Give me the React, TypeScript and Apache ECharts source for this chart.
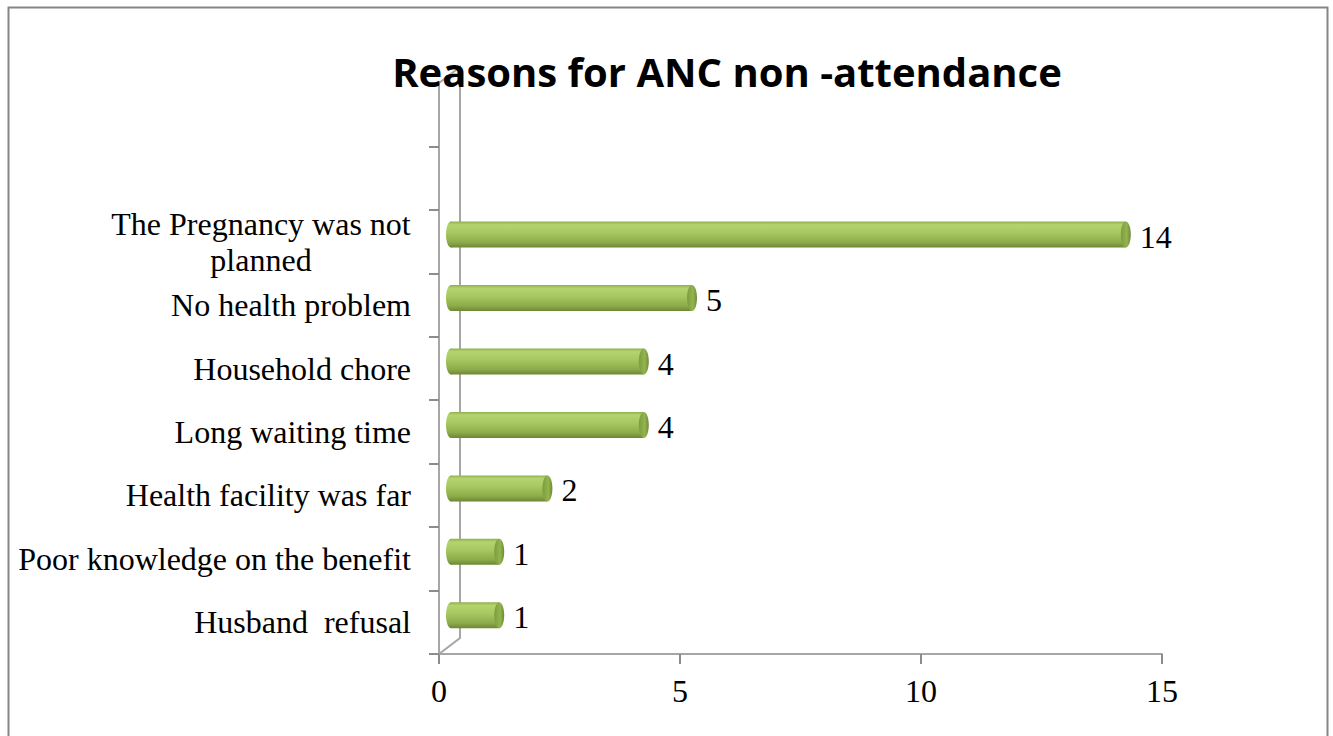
import React, { useEffect, useRef } from "react";
import * as echarts from "echarts";

const categories = [
  "Husband  refusal",
  "Poor knowledge on the benefit",
  "Health facility was far",
  "Long waiting time",
  "Household chore",
  "No health problem",
  "The Pregnancy was not planned",
  " ",
  "  ",
];
const values = [1, 1, 2, 4, 4, 5, 14];
const xTicks = { min: 0, max: 15, interval: 5 };
const titleText = "Reasons for ANC non -attendance";

const SERIF = '"Liberation Serif", "Times New Roman", serif';

export default function App() {
  const ref = useRef<HTMLDivElement>(null);
  useEffect(() => {
    if (!ref.current) return;
    const chart = echarts.init(ref.current, null, { renderer: "svg" });
    const bodyGrad = () =>
      new echarts.graphic.LinearGradient(0, 0, 0, 1, [
        { offset: 0, color: "#8FAF4C" },
        { offset: 0.12, color: "#B3D46E" },
        { offset: 0.45, color: "#A5C660" },
        { offset: 0.8, color: "#8DAB4A" },
        { offset: 1, color: "#6C8734" },
      ]);
    const capGrad = () =>
      new echarts.graphic.LinearGradient(0, 0, 1, 0, [
        { offset: 0, color: "#7D9C3E" },
        { offset: 0.6, color: "#93B44F" },
        { offset: 1, color: "#6E8A36" },
      ]);
    chart.setOption({
      animation: false,
      backgroundColor: "#ffffff",
      grid: { left: 439, right: 171, top: 83, bottom: 82, containLabel: false },
      xAxis: {
        type: "value",
        min: xTicks.min,
        max: xTicks.max,
        interval: xTicks.interval,
        splitLine: { show: false },
        axisLine: { show: true, lineStyle: { color: "#A6A6A6", width: 2 } },
        axisTick: { show: true, length: 10, lineStyle: { color: "#8C8C8C", width: 2 } },
        axisLabel: { color: "#000", fontFamily: SERIF, fontSize: 32, margin: 21 },
      },
      yAxis: {
        type: "category",
        data: categories,
        boundaryGap: true,
        axisLine: { show: true, lineStyle: { color: "#A6A6A6", width: 2 } },
        axisTick: { show: true, length: 10, lineStyle: { color: "#8C8C8C", width: 2 } },
        axisLabel: {
          color: "#000",
          fontFamily: SERIF,
          fontSize: 32,
          margin: 28,
          interval: 0,
          lineHeight: 36,
          formatter: (v: string) =>
            v === "The Pregnancy was not planned"
              ? "{c|The Pregnancy was not}\n{c|planned}"
              : v,
          rich: {
            c: {
              width: 300,
              align: "center",
              fontFamily: SERIF,
              fontSize: 32,
              lineHeight: 36,
              color: "#000",
            },
          },
        },
      },
      graphic: [
        {
          type: "rect",
          shape: { x: 8.5, y: 7.5, width: 1319, height: 740 },
          style: { fill: "none", stroke: "#868686", lineWidth: 2 },
          z: 0,
        },
        {
          type: "polyline",
          shape: { points: [[439, 83], [460, 67], [460, 638], [439, 654]] },
          style: { fill: "none", stroke: "#A6A6A6", lineWidth: 2 },
          z: 1,
        },
        {
          type: "text",
          x: 727,
          y: 71,
          z: 10,
          style: {
            text: titleText,
            align: "center",
            verticalAlign: "middle",
            font: 'bold 40px "Open Sans", Lato, sans-serif',
            fill: "#000",
          },
        },
      ],
      series: [
        {
          type: "custom",
          coordinateSystem: "cartesian2d",
          encode: { x: 0, y: 1 },
          data: values.map((v, i) => [v, i]),
          z: 5,
          renderItem: (params: any, api: any) => {
            const v = api.value(0);
            const c = api.value(1);
            const p0 = api.coord([0, c]);
            const p1 = api.coord([v, c]);
            const dx = 12;
            const dy = -7;
            const h = 26;
            const rx = 5;
            const x0 = p0[0] + dx;
            const x1 = p1[0] + dx;
            const yc = p0[1] + dy;
            return {
              type: "group",
              children: [
                {
                  type: "ellipse",
                  shape: { cx: x0, cy: yc, rx, ry: h / 2 },
                  style: { fill: bodyGrad() },
                },
                {
                  type: "rect",
                  shape: { x: x0, y: yc - h / 2, width: x1 - x0, height: h },
                  style: { fill: bodyGrad() },
                },
                {
                  type: "ellipse",
                  shape: { cx: x1, cy: yc, rx, ry: h / 2 },
                  style: { fill: capGrad() },
                },
                {
                  type: "text",
                  x: x1 + rx + 9,
                  y: yc + 2,
                  style: {
                    text: String(v),
                    font: '32px "Liberation Serif", serif',
                    fill: "#000",
                    align: "left",
                    verticalAlign: "middle",
                  },
                },
              ],
            };
          },
        },
      ],
    });
    return () => chart.dispose();
  }, []);
  return (
    <div
      ref={ref}
      style={{ position: "absolute", left: 0, top: 0, width: 1333, height: 736, background: "#fff" }}
    />
  );
}
